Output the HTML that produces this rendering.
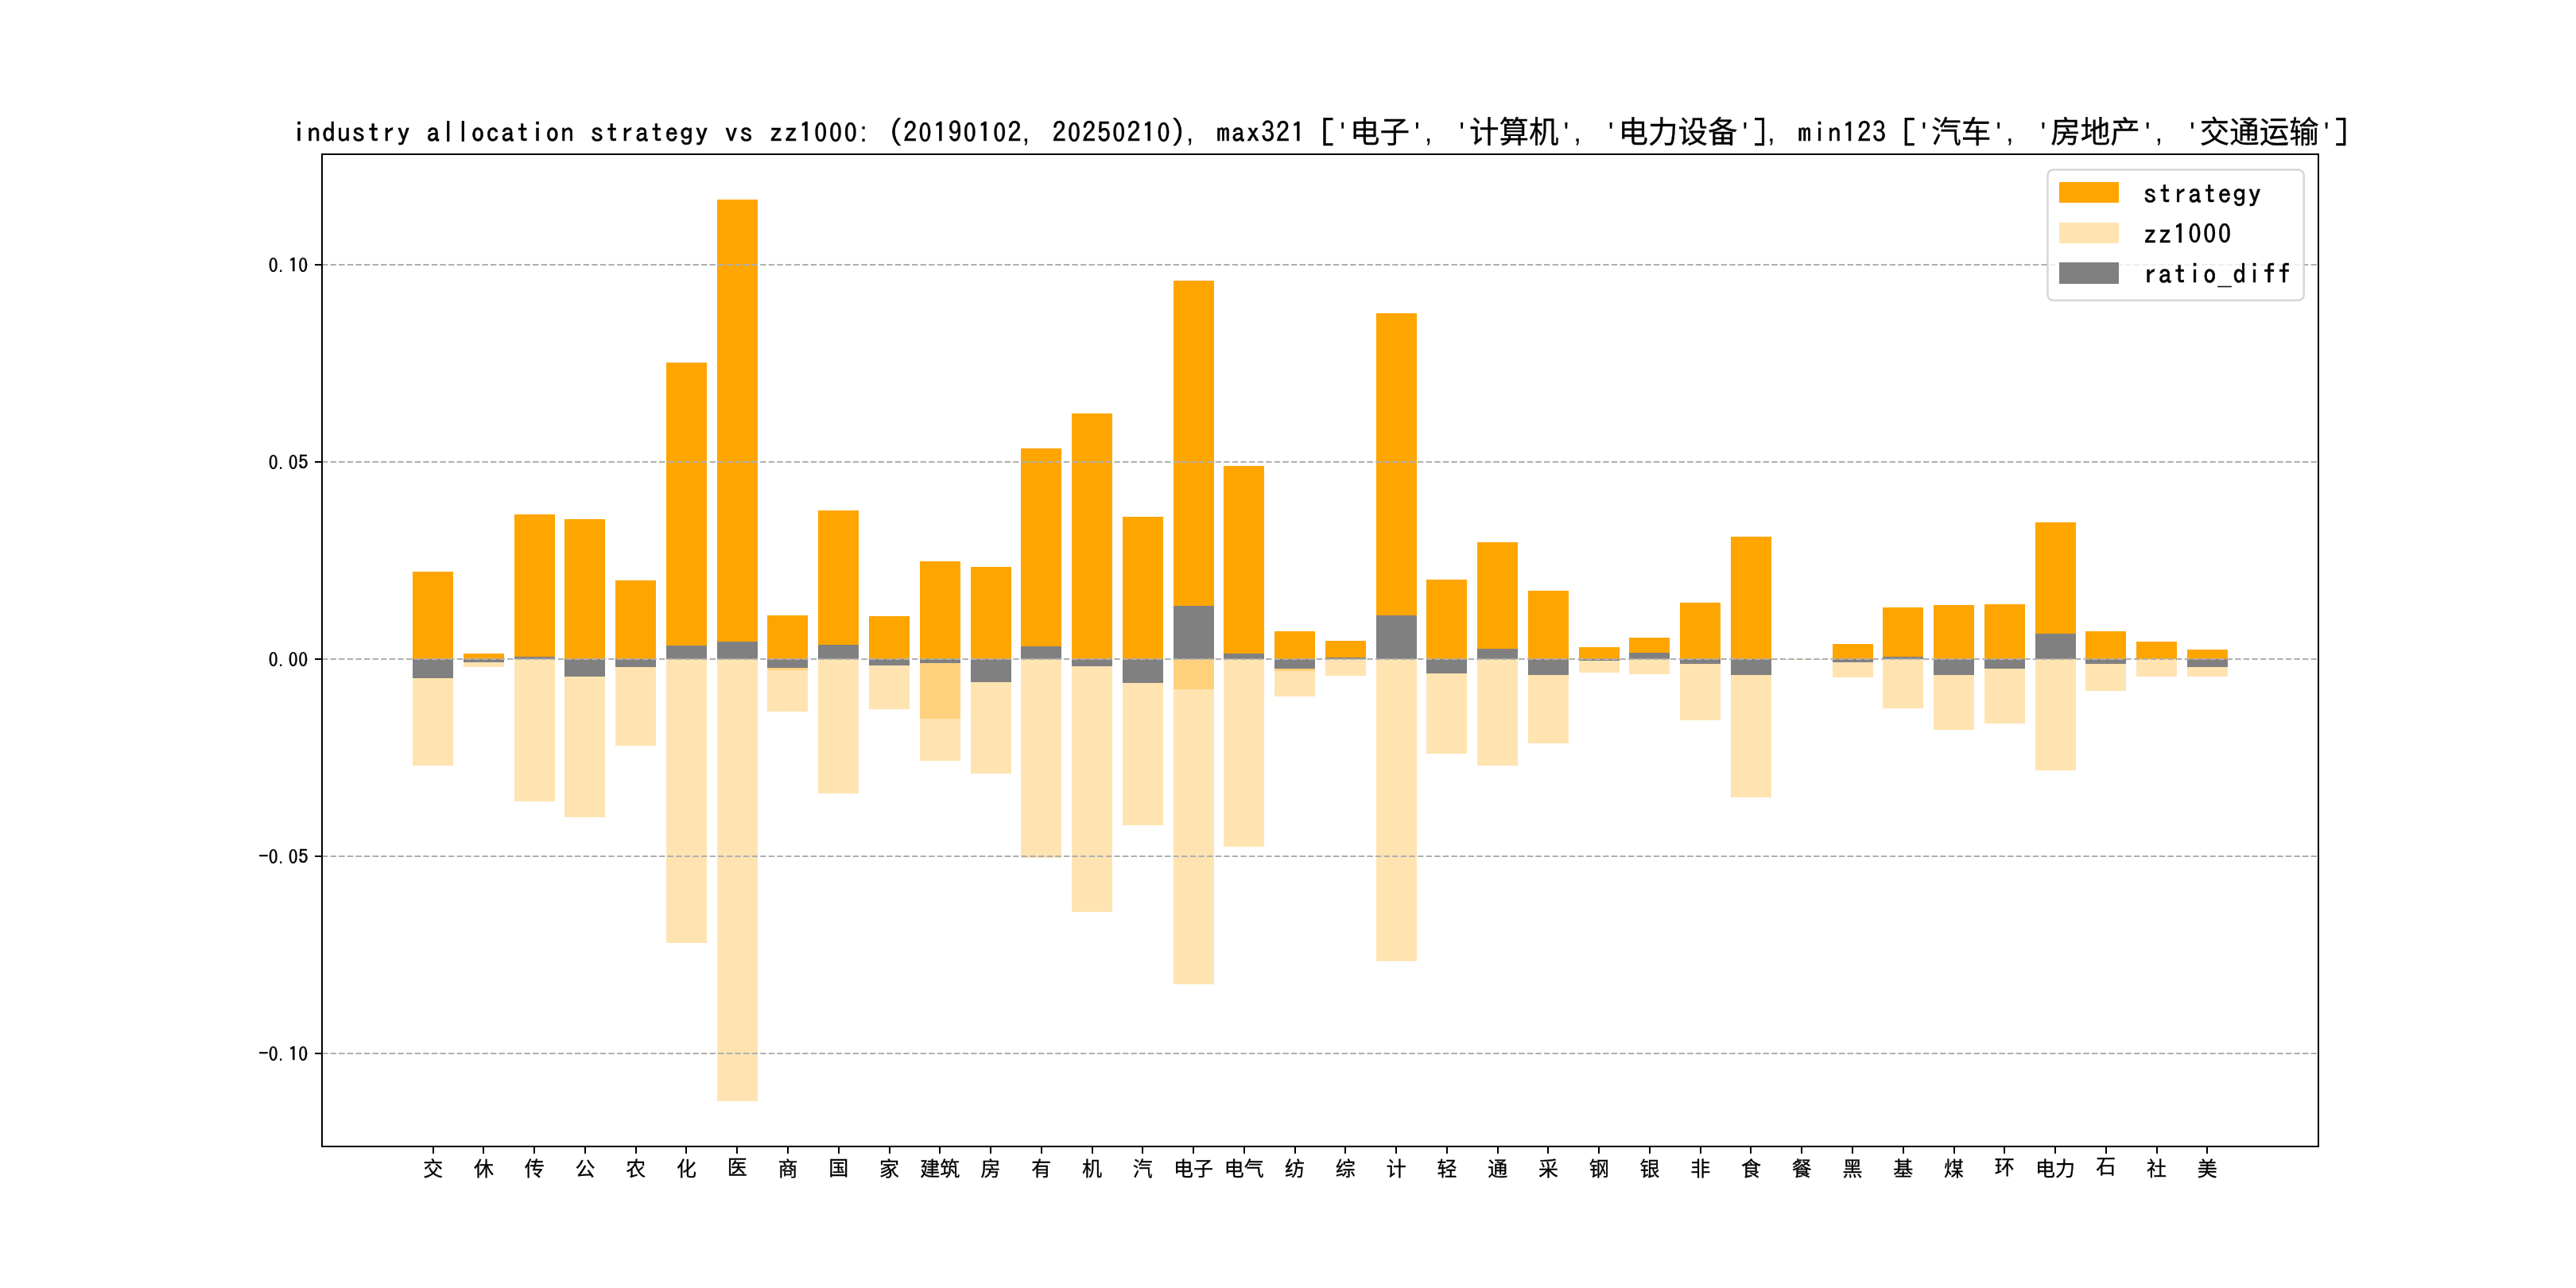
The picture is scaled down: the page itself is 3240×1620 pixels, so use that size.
<!DOCTYPE html>
<html lang="zh"><head><meta charset="utf-8"><title>industry allocation strategy vs zz1000</title>
<style>html,body{margin:0;padding:0;background:#fff}body{width:3240px;height:1620px;overflow:hidden}svg{display:block}text{font-family:"Liberation Sans","Noto Sans CJK SC",sans-serif;fill:#000}.a{font-family:"IPAGothic","Liberation Mono",monospace;stroke:#000;stroke-width:0.6px}.z{font-family:"Noto Sans Mono CJK SC","Liberation Mono",monospace;stroke:#000}.q{font-family:"Liberation Sans",sans-serif}.cj{stroke:#000;stroke-width:0.3px;font-family:"Noto Sans CJK SC","Liberation Sans",sans-serif}</style></head><body>
<svg width="3240" height="1620" viewBox="0 0 3240 1620">
<rect x="0" y="0" width="3240" height="1620" fill="#fff"/>
<g shape-rendering="crispEdges">
<rect x="519" y="719" width="51" height="110" fill="#ffa500"/>
<rect x="519" y="829" width="51" height="134" fill="#ffe4b2"/>
<rect x="519" y="829" width="51" height="24" fill="#808080"/>
<rect x="583" y="822" width="51" height="7" fill="#ffa500"/>
<rect x="583" y="829" width="51" height="10" fill="#ffe4b2"/>
<rect x="583" y="829" width="51" height="4" fill="#808080"/>
<rect x="647" y="647" width="51" height="182" fill="#ffa500"/>
<rect x="647" y="829" width="51" height="179" fill="#ffe4b2"/>
<rect x="647" y="826" width="51" height="3" fill="#808080"/>
<rect x="710" y="653" width="51" height="176" fill="#ffa500"/>
<rect x="710" y="829" width="51" height="199" fill="#ffe4b2"/>
<rect x="710" y="829" width="51" height="22" fill="#808080"/>
<rect x="774" y="730" width="51" height="99" fill="#ffa500"/>
<rect x="774" y="829" width="51" height="109" fill="#ffe4b2"/>
<rect x="774" y="829" width="51" height="10" fill="#808080"/>
<rect x="838" y="456" width="51" height="373" fill="#ffa500"/>
<rect x="838" y="829" width="51" height="357" fill="#ffe4b2"/>
<rect x="838" y="812" width="51" height="17" fill="#808080"/>
<rect x="902" y="251" width="51" height="578" fill="#ffa500"/>
<rect x="902" y="829" width="51" height="556" fill="#ffe4b2"/>
<rect x="902" y="807" width="51" height="22" fill="#808080"/>
<rect x="965" y="774" width="51" height="55" fill="#ffa500"/>
<rect x="965" y="829" width="51" height="66" fill="#ffe4b2"/>
<rect x="965" y="829" width="51" height="14" fill="#ffd17d"/>
<rect x="965" y="829" width="51" height="11" fill="#808080"/>
<rect x="1029" y="642" width="51" height="187" fill="#ffa500"/>
<rect x="1029" y="829" width="51" height="169" fill="#ffe4b2"/>
<rect x="1029" y="811" width="51" height="18" fill="#808080"/>
<rect x="1093" y="775" width="51" height="54" fill="#ffa500"/>
<rect x="1093" y="829" width="51" height="63" fill="#ffe4b2"/>
<rect x="1093" y="829" width="51" height="8" fill="#808080"/>
<rect x="1157" y="706" width="51" height="123" fill="#ffa500"/>
<rect x="1157" y="829" width="51" height="128" fill="#ffe4b2"/>
<rect x="1157" y="829" width="51" height="75" fill="#ffd17d"/>
<rect x="1157" y="829" width="51" height="5" fill="#808080"/>
<rect x="1221" y="713" width="51" height="116" fill="#ffa500"/>
<rect x="1221" y="829" width="51" height="144" fill="#ffe4b2"/>
<rect x="1221" y="829" width="51" height="29" fill="#808080"/>
<rect x="1284" y="564" width="51" height="265" fill="#ffa500"/>
<rect x="1284" y="829" width="51" height="250" fill="#ffe4b2"/>
<rect x="1284" y="813" width="51" height="16" fill="#808080"/>
<rect x="1348" y="520" width="51" height="309" fill="#ffa500"/>
<rect x="1348" y="829" width="51" height="318" fill="#ffe4b2"/>
<rect x="1348" y="829" width="51" height="9" fill="#808080"/>
<rect x="1412" y="650" width="51" height="179" fill="#ffa500"/>
<rect x="1412" y="829" width="51" height="209" fill="#ffe4b2"/>
<rect x="1412" y="829" width="51" height="30" fill="#808080"/>
<rect x="1476" y="353" width="51" height="476" fill="#ffa500"/>
<rect x="1476" y="829" width="51" height="409" fill="#ffe4b2"/>
<rect x="1476" y="829" width="51" height="38" fill="#ffd17d"/>
<rect x="1476" y="762" width="51" height="67" fill="#808080"/>
<rect x="1539" y="586" width="51" height="243" fill="#ffa500"/>
<rect x="1539" y="829" width="51" height="236" fill="#ffe4b2"/>
<rect x="1539" y="822" width="51" height="7" fill="#808080"/>
<rect x="1603" y="794" width="51" height="35" fill="#ffa500"/>
<rect x="1603" y="829" width="51" height="47" fill="#ffe4b2"/>
<rect x="1603" y="829" width="51" height="15" fill="#ffd17d"/>
<rect x="1603" y="829" width="51" height="12" fill="#808080"/>
<rect x="1667" y="806" width="51" height="23" fill="#ffa500"/>
<rect x="1667" y="829" width="51" height="21" fill="#ffe4b2"/>
<rect x="1667" y="827" width="51" height="2" fill="#808080"/>
<rect x="1731" y="394" width="51" height="435" fill="#ffa500"/>
<rect x="1731" y="829" width="51" height="380" fill="#ffe4b2"/>
<rect x="1731" y="774" width="51" height="55" fill="#808080"/>
<rect x="1794" y="729" width="51" height="100" fill="#ffa500"/>
<rect x="1794" y="829" width="51" height="119" fill="#ffe4b2"/>
<rect x="1794" y="829" width="51" height="18" fill="#808080"/>
<rect x="1858" y="682" width="51" height="147" fill="#ffa500"/>
<rect x="1858" y="829" width="51" height="134" fill="#ffe4b2"/>
<rect x="1858" y="816" width="51" height="13" fill="#808080"/>
<rect x="1922" y="743" width="51" height="86" fill="#ffa500"/>
<rect x="1922" y="829" width="51" height="106" fill="#ffe4b2"/>
<rect x="1922" y="829" width="51" height="20" fill="#808080"/>
<rect x="1986" y="814" width="51" height="15" fill="#ffa500"/>
<rect x="1986" y="829" width="51" height="17" fill="#ffe4b2"/>
<rect x="1986" y="829" width="51" height="2" fill="#808080"/>
<rect x="2049" y="802" width="51" height="27" fill="#ffa500"/>
<rect x="2049" y="829" width="51" height="19" fill="#ffe4b2"/>
<rect x="2049" y="821" width="51" height="8" fill="#808080"/>
<rect x="2113" y="758" width="51" height="71" fill="#ffa500"/>
<rect x="2113" y="829" width="51" height="77" fill="#ffe4b2"/>
<rect x="2113" y="829" width="51" height="6" fill="#808080"/>
<rect x="2177" y="675" width="51" height="154" fill="#ffa500"/>
<rect x="2177" y="829" width="51" height="174" fill="#ffe4b2"/>
<rect x="2177" y="829" width="51" height="20" fill="#808080"/>
<rect x="2241" y="829" width="51" height="1" fill="#ffe4b2"/>
<rect x="2305" y="810" width="51" height="19" fill="#ffa500"/>
<rect x="2305" y="829" width="51" height="23" fill="#ffe4b2"/>
<rect x="2305" y="829" width="51" height="4" fill="#808080"/>
<rect x="2368" y="764" width="51" height="65" fill="#ffa500"/>
<rect x="2368" y="829" width="51" height="62" fill="#ffe4b2"/>
<rect x="2368" y="826" width="51" height="3" fill="#808080"/>
<rect x="2432" y="761" width="51" height="68" fill="#ffa500"/>
<rect x="2432" y="829" width="51" height="89" fill="#ffe4b2"/>
<rect x="2432" y="829" width="51" height="20" fill="#808080"/>
<rect x="2496" y="760" width="51" height="69" fill="#ffa500"/>
<rect x="2496" y="829" width="51" height="81" fill="#ffe4b2"/>
<rect x="2496" y="829" width="51" height="12" fill="#808080"/>
<rect x="2560" y="657" width="51" height="172" fill="#ffa500"/>
<rect x="2560" y="829" width="51" height="140" fill="#ffe4b2"/>
<rect x="2560" y="797" width="51" height="32" fill="#808080"/>
<rect x="2623" y="794" width="51" height="35" fill="#ffa500"/>
<rect x="2623" y="829" width="51" height="40" fill="#ffe4b2"/>
<rect x="2623" y="829" width="51" height="6" fill="#808080"/>
<rect x="2687" y="807" width="51" height="22" fill="#ffa500"/>
<rect x="2687" y="829" width="51" height="22" fill="#ffe4b2"/>
<rect x="2751" y="817" width="51" height="12" fill="#ffa500"/>
<rect x="2751" y="829" width="51" height="22" fill="#ffe4b2"/>
<rect x="2751" y="829" width="51" height="10" fill="#808080"/>
</g>
<g stroke="#b0b0b0" stroke-width="2" stroke-dasharray="7.4 3.2" fill="none">
<line x1="405" y1="333" x2="2916" y2="333"/>
<line x1="405" y1="581" x2="2916" y2="581"/>
<line x1="405" y1="829" x2="2916" y2="829"/>
<line x1="405" y1="1077" x2="2916" y2="1077"/>
<line x1="405" y1="1325" x2="2916" y2="1325"/>
</g>
<g stroke="#000" stroke-width="2" fill="none" shape-rendering="crispEdges">
<rect x="405" y="194" width="2511" height="1248"/>
<line x1="396" y1="333" x2="405" y2="333"/>
<line x1="396" y1="581" x2="405" y2="581"/>
<line x1="396" y1="829" x2="405" y2="829"/>
<line x1="396" y1="1077" x2="405" y2="1077"/>
<line x1="396" y1="1325" x2="405" y2="1325"/>
<line x1="545" y1="1442" x2="545" y2="1451"/>
<line x1="608" y1="1442" x2="608" y2="1451"/>
<line x1="672" y1="1442" x2="672" y2="1451"/>
<line x1="736" y1="1442" x2="736" y2="1451"/>
<line x1="800" y1="1442" x2="800" y2="1451"/>
<line x1="863" y1="1442" x2="863" y2="1451"/>
<line x1="927" y1="1442" x2="927" y2="1451"/>
<line x1="991" y1="1442" x2="991" y2="1451"/>
<line x1="1055" y1="1442" x2="1055" y2="1451"/>
<line x1="1119" y1="1442" x2="1119" y2="1451"/>
<line x1="1182" y1="1442" x2="1182" y2="1451"/>
<line x1="1246" y1="1442" x2="1246" y2="1451"/>
<line x1="1310" y1="1442" x2="1310" y2="1451"/>
<line x1="1374" y1="1442" x2="1374" y2="1451"/>
<line x1="1437" y1="1442" x2="1437" y2="1451"/>
<line x1="1501" y1="1442" x2="1501" y2="1451"/>
<line x1="1565" y1="1442" x2="1565" y2="1451"/>
<line x1="1629" y1="1442" x2="1629" y2="1451"/>
<line x1="1692" y1="1442" x2="1692" y2="1451"/>
<line x1="1756" y1="1442" x2="1756" y2="1451"/>
<line x1="1820" y1="1442" x2="1820" y2="1451"/>
<line x1="1884" y1="1442" x2="1884" y2="1451"/>
<line x1="1947" y1="1442" x2="1947" y2="1451"/>
<line x1="2011" y1="1442" x2="2011" y2="1451"/>
<line x1="2075" y1="1442" x2="2075" y2="1451"/>
<line x1="2139" y1="1442" x2="2139" y2="1451"/>
<line x1="2202" y1="1442" x2="2202" y2="1451"/>
<line x1="2266" y1="1442" x2="2266" y2="1451"/>
<line x1="2330" y1="1442" x2="2330" y2="1451"/>
<line x1="2394" y1="1442" x2="2394" y2="1451"/>
<line x1="2458" y1="1442" x2="2458" y2="1451"/>
<line x1="2521" y1="1442" x2="2521" y2="1451"/>
<line x1="2585" y1="1442" x2="2585" y2="1451"/>
<line x1="2649" y1="1442" x2="2649" y2="1451"/>
<line x1="2713" y1="1442" x2="2713" y2="1451"/>
<line x1="2776" y1="1442" x2="2776" y2="1451"/>
</g>
<g style="will-change:transform">
<text text-anchor="middle" xml:space="preserve"><tspan x="376.12 394.88 413.62 432.38 451.12 469.88 488.62 507.38 526.12 544.88" y="179.07" class="a" font-size="34.12" stroke-width="0.49">industry a</tspan><tspan x="563.62 582.38" y="177.50" class="q" font-size="34.88" stroke="#000" stroke-width="0.15">ll</tspan><tspan x="601.12 619.88 638.62 657.38 676.12 694.88 713.62 732.38 751.12 769.88 788.62 807.38 826.12 844.88 863.62 882.38 901.12 919.88 938.62 957.38 976.12 994.88 1013.62" y="179.07" class="a" font-size="34.12" stroke-width="0.49">ocation strategy vs zz1</tspan><tspan x="1032.38 1051.12 1069.88" y="177.50" class="z" font-size="34.12" stroke-width="0.30">000</tspan><tspan x="1086.00" y="177.50" class="q" font-size="34.50">:</tspan><tspan x="1107.38" y="179.07" class="a" font-size="34.12" stroke-width="0.49"> </tspan><tspan x="1126.12" y="179.75" class="a" font-size="37.50" stroke-width="0.30">(</tspan><tspan x="1144.88" y="179.07" class="a" font-size="34.12" stroke-width="0.49">2</tspan><tspan x="1163.62" y="177.50" class="z" font-size="34.12" stroke-width="0.30">0</tspan><tspan x="1182.38 1201.12" y="179.07" class="a" font-size="34.12" stroke-width="0.49">19</tspan><tspan x="1219.88" y="177.50" class="z" font-size="34.12" stroke-width="0.30">0</tspan><tspan x="1238.62" y="179.07" class="a" font-size="34.12" stroke-width="0.49">1</tspan><tspan x="1257.38" y="177.50" class="z" font-size="34.12" stroke-width="0.30">0</tspan><tspan x="1276.12" y="179.07" class="a" font-size="34.12" stroke-width="0.49">2</tspan><tspan x="1290.38" y="177.50" class="q" font-size="34.50">,</tspan><tspan x="1313.62 1332.38" y="179.07" class="a" font-size="34.12" stroke-width="0.49"> 2</tspan><tspan x="1351.12" y="177.50" class="z" font-size="34.12" stroke-width="0.30">0</tspan><tspan x="1369.88 1388.62" y="179.07" class="a" font-size="34.12" stroke-width="0.49">25</tspan><tspan x="1407.38" y="177.50" class="z" font-size="34.12" stroke-width="0.30">0</tspan><tspan x="1426.12 1444.88" y="179.07" class="a" font-size="34.12" stroke-width="0.49">21</tspan><tspan x="1463.62" y="177.50" class="z" font-size="34.12" stroke-width="0.30">0</tspan><tspan x="1482.38" y="179.75" class="a" font-size="37.50" stroke-width="0.30">)</tspan><tspan x="1496.62" y="177.50" class="q" font-size="34.50">,</tspan><tspan x="1519.88 1538.62 1557.38 1576.12 1594.88 1613.62 1632.38 1651.12" y="179.07" class="a" font-size="34.12" stroke-width="0.49"> max321 </tspan><tspan x="1669.88" y="179.75" class="a" font-size="37.50" stroke-width="0.30">[</tspan><tspan x="1688.62" y="177.50" class="q" font-size="35.62">'</tspan><tspan x="1716.75 1754.25" y="178.62" class="cj" font-size="37.5">电子</tspan><tspan x="1782.38" y="177.50" class="q" font-size="35.62">'</tspan><tspan x="1796.62" y="177.50" class="q" font-size="34.50">,</tspan><tspan x="1819.88" y="179.07" class="a" font-size="34.12" stroke-width="0.49"> </tspan><tspan x="1838.62" y="177.50" class="q" font-size="35.62">'</tspan><tspan x="1866.75 1904.25 1941.75" y="178.62" class="cj" font-size="37.5">计算机</tspan><tspan x="1969.88" y="177.50" class="q" font-size="35.62">'</tspan><tspan x="1984.12" y="177.50" class="q" font-size="34.50">,</tspan><tspan x="2007.38" y="179.07" class="a" font-size="34.12" stroke-width="0.49"> </tspan><tspan x="2026.12" y="177.50" class="q" font-size="35.62">'</tspan><tspan x="2054.25 2091.75 2129.25 2166.75" y="178.62" class="cj" font-size="37.5">电力设备</tspan><tspan x="2194.88" y="177.50" class="q" font-size="35.62">'</tspan><tspan x="2213.62" y="179.75" class="a" font-size="37.50" stroke-width="0.30">]</tspan><tspan x="2227.88" y="177.50" class="q" font-size="34.50">,</tspan><tspan x="2251.12 2269.88 2288.62 2307.38 2326.12 2344.88 2363.62 2382.38" y="179.07" class="a" font-size="34.12" stroke-width="0.49"> min123 </tspan><tspan x="2401.12" y="179.75" class="a" font-size="37.50" stroke-width="0.30">[</tspan><tspan x="2419.88" y="177.50" class="q" font-size="35.62">'</tspan><tspan x="2448.00 2485.50" y="178.62" class="cj" font-size="37.5">汽车</tspan><tspan x="2513.62" y="177.50" class="q" font-size="35.62">'</tspan><tspan x="2527.88" y="177.50" class="q" font-size="34.50">,</tspan><tspan x="2551.12" y="179.07" class="a" font-size="34.12" stroke-width="0.49"> </tspan><tspan x="2569.88" y="177.50" class="q" font-size="35.62">'</tspan><tspan x="2598.00 2635.50 2673.00" y="178.62" class="cj" font-size="37.5">房地产</tspan><tspan x="2701.12" y="177.50" class="q" font-size="35.62">'</tspan><tspan x="2715.38" y="177.50" class="q" font-size="34.50">,</tspan><tspan x="2738.62" y="179.07" class="a" font-size="34.12" stroke-width="0.49"> </tspan><tspan x="2757.38" y="177.50" class="q" font-size="35.62">'</tspan><tspan x="2785.50 2823.00 2860.50 2898.00" y="178.62" class="cj" font-size="37.5">交通运输</tspan><tspan x="2926.12" y="177.50" class="q" font-size="35.62">'</tspan><tspan x="2944.88" y="179.75" class="a" font-size="37.50" stroke-width="0.30">]</tspan></text>
<text text-anchor="middle" xml:space="preserve"><tspan x="343.75" y="342.00" class="z" font-size="25.00" stroke-width="0.20">0</tspan><tspan x="353.25" y="342.00" class="q" font-size="23.00">.</tspan><tspan x="368.75" y="342.20" class="a" font-size="24.50" stroke-width="0.18">1</tspan><tspan x="381.25" y="342.00" class="z" font-size="25.00" stroke-width="0.20">0</tspan></text>
<text text-anchor="middle" xml:space="preserve"><tspan x="343.75" y="590.00" class="z" font-size="25.00" stroke-width="0.20">0</tspan><tspan x="353.25" y="590.00" class="q" font-size="23.00">.</tspan><tspan x="368.75" y="590.00" class="z" font-size="25.00" stroke-width="0.20">0</tspan><tspan x="381.25" y="590.20" class="a" font-size="24.50" stroke-width="0.18">5</tspan></text>
<text text-anchor="middle" xml:space="preserve"><tspan x="343.75" y="838.00" class="z" font-size="25.00" stroke-width="0.20">0</tspan><tspan x="353.25" y="838.00" class="q" font-size="23.00">.</tspan><tspan x="368.75 381.25" y="838.00" class="z" font-size="25.00" stroke-width="0.20">00</tspan></text>
<text text-anchor="middle" xml:space="preserve"><tspan x="331.25" y="1085.30" class="a" font-size="24.50" stroke-width="0.33">-</tspan><tspan x="343.75" y="1086.00" class="z" font-size="25.00" stroke-width="0.20">0</tspan><tspan x="353.25" y="1086.00" class="q" font-size="23.00">.</tspan><tspan x="368.75" y="1086.00" class="z" font-size="25.00" stroke-width="0.20">0</tspan><tspan x="381.25" y="1086.20" class="a" font-size="24.50" stroke-width="0.18">5</tspan></text>
<text text-anchor="middle" xml:space="preserve"><tspan x="331.25" y="1333.30" class="a" font-size="24.50" stroke-width="0.33">-</tspan><tspan x="343.75" y="1334.00" class="z" font-size="25.00" stroke-width="0.20">0</tspan><tspan x="353.25" y="1334.00" class="q" font-size="23.00">.</tspan><tspan x="368.75" y="1334.20" class="a" font-size="24.50" stroke-width="0.18">1</tspan><tspan x="381.25" y="1334.00" class="z" font-size="25.00" stroke-width="0.20">0</tspan></text>
<text text-anchor="middle" xml:space="preserve"><tspan x="544.64" y="1479.30" class="cj" font-size="25">交</tspan></text>
<text text-anchor="middle" xml:space="preserve"><tspan x="608.41" y="1479.30" class="cj" font-size="25">休</tspan></text>
<text text-anchor="middle" xml:space="preserve"><tspan x="672.17" y="1479.30" class="cj" font-size="25">传</tspan></text>
<text text-anchor="middle" xml:space="preserve"><tspan x="735.93" y="1479.30" class="cj" font-size="25">公</tspan></text>
<text text-anchor="middle" xml:space="preserve"><tspan x="799.70" y="1479.30" class="cj" font-size="25">农</tspan></text>
<text text-anchor="middle" xml:space="preserve"><tspan x="863.46" y="1479.30" class="cj" font-size="25">化</tspan></text>
<text text-anchor="middle" xml:space="preserve"><tspan x="927.22" y="1476.80" class="cj" font-size="25">医</tspan></text>
<text text-anchor="middle" xml:space="preserve"><tspan x="990.99" y="1479.30" class="cj" font-size="25">商</tspan></text>
<text text-anchor="middle" xml:space="preserve"><tspan x="1054.75" y="1478.30" class="cj" font-size="25">国</tspan></text>
<text text-anchor="middle" xml:space="preserve"><tspan x="1118.51" y="1479.30" class="cj" font-size="25">家</tspan></text>
<text text-anchor="middle" xml:space="preserve"><tspan x="1169.78 1194.78" y="1479.30" class="cj" font-size="25">建筑</tspan></text>
<text text-anchor="middle" xml:space="preserve"><tspan x="1246.04" y="1479.30" class="cj" font-size="25">房</tspan></text>
<text text-anchor="middle" xml:space="preserve"><tspan x="1309.80" y="1479.30" class="cj" font-size="25">有</tspan></text>
<text text-anchor="middle" xml:space="preserve"><tspan x="1373.57" y="1479.30" class="cj" font-size="25">机</tspan></text>
<text text-anchor="middle" xml:space="preserve"><tspan x="1437.33" y="1479.30" class="cj" font-size="25">汽</tspan></text>
<text text-anchor="middle" xml:space="preserve"><tspan x="1488.59 1513.59" y="1479.30" class="cj" font-size="25">电子</tspan></text>
<text text-anchor="middle" xml:space="preserve"><tspan x="1552.36 1577.36" y="1479.30" class="cj" font-size="25">电气</tspan></text>
<text text-anchor="middle" xml:space="preserve"><tspan x="1628.62" y="1479.30" class="cj" font-size="25">纺</tspan></text>
<text text-anchor="middle" xml:space="preserve"><tspan x="1692.38" y="1479.30" class="cj" font-size="25">综</tspan></text>
<text text-anchor="middle" xml:space="preserve"><tspan x="1756.14" y="1478.50" class="cj" font-size="25">计</tspan></text>
<text text-anchor="middle" xml:space="preserve"><tspan x="1819.91" y="1479.30" class="cj" font-size="25">轻</tspan></text>
<text text-anchor="middle" xml:space="preserve"><tspan x="1883.67" y="1479.30" class="cj" font-size="25">通</tspan></text>
<text text-anchor="middle" xml:space="preserve"><tspan x="1947.43" y="1478.50" class="cj" font-size="25">采</tspan></text>
<text text-anchor="middle" xml:space="preserve"><tspan x="2011.20" y="1479.30" class="cj" font-size="25">钢</tspan></text>
<text text-anchor="middle" xml:space="preserve"><tspan x="2074.96" y="1479.30" class="cj" font-size="25">银</tspan></text>
<text text-anchor="middle" xml:space="preserve"><tspan x="2138.72" y="1479.30" class="cj" font-size="25">非</tspan></text>
<text text-anchor="middle" xml:space="preserve"><tspan x="2202.49" y="1479.30" class="cj" font-size="25">食</tspan></text>
<text text-anchor="middle" xml:space="preserve"><tspan x="2266.25" y="1479.30" class="cj" font-size="25">餐</tspan></text>
<text text-anchor="middle" xml:space="preserve"><tspan x="2330.01" y="1479.30" class="cj" font-size="25">黑</tspan></text>
<text text-anchor="middle" xml:space="preserve"><tspan x="2393.78" y="1479.30" class="cj" font-size="25">基</tspan></text>
<text text-anchor="middle" xml:space="preserve"><tspan x="2457.54" y="1479.30" class="cj" font-size="25">煤</tspan></text>
<text text-anchor="middle" xml:space="preserve"><tspan x="2521.30" y="1476.80" class="cj" font-size="25">环</tspan></text>
<text text-anchor="middle" xml:space="preserve"><tspan x="2572.57 2597.57" y="1479.30" class="cj" font-size="25">电力</tspan></text>
<text text-anchor="middle" xml:space="preserve"><tspan x="2648.83" y="1476.30" class="cj" font-size="25">石</tspan></text>
<text text-anchor="middle" xml:space="preserve"><tspan x="2712.59" y="1479.30" class="cj" font-size="25">社</tspan></text>
<text text-anchor="middle" xml:space="preserve"><tspan x="2776.36" y="1479.30" class="cj" font-size="25">美</tspan></text>
<rect x="2575.5" y="213.5" width="322.2" height="164.3" rx="7" ry="7" fill="#fff" fill-opacity="0.8" stroke="#ccc" stroke-opacity="0.8" stroke-width="2.5"/>
<rect x="2590" y="229" width="75" height="26" fill="#ffa500" shape-rendering="crispEdges"/>
<text text-anchor="middle" xml:space="preserve"><tspan x="2704.38 2723.12 2741.88 2760.62 2779.38 2798.12 2816.88 2835.62" y="255.57" class="a" font-size="34.12" stroke-width="0.49">strategy</tspan></text>
<rect x="2590" y="280" width="75" height="26" fill="#ffe4b2" shape-rendering="crispEdges"/>
<text text-anchor="middle" xml:space="preserve"><tspan x="2704.38 2723.12 2741.88" y="306.57" class="a" font-size="34.12" stroke-width="0.49">zz1</tspan><tspan x="2760.62 2779.38 2798.12" y="305.00" class="z" font-size="34.12" stroke-width="0.30">000</tspan></text>
<rect x="2590" y="330" width="75" height="27" fill="#808080" shape-rendering="crispEdges"/>
<text text-anchor="middle" xml:space="preserve"><tspan x="2704.38 2723.12 2741.88 2760.62 2779.38 2798.12 2816.88 2835.62 2854.38 2873.12" y="357.07" class="a" font-size="34.12" stroke-width="0.49">ratio_diff</tspan></text>
</g>
</svg></body></html>
